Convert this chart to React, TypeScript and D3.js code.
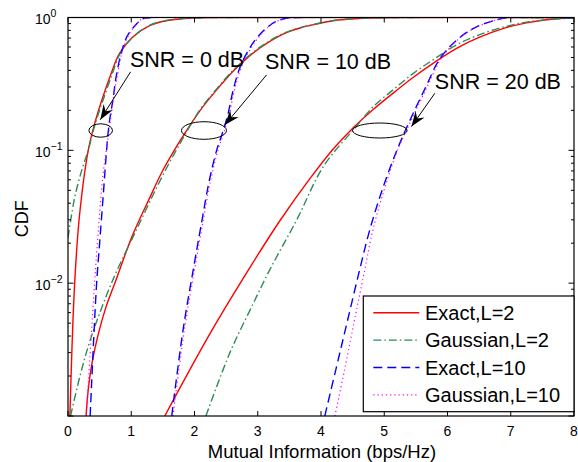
import React from 'react';
import * as d3 from 'd3';

// values: [mutual information, CDF]
const exactL2_0dB = [[0.03, 0.001], [0.1, 0.0089], [0.18, 0.0316], [0.32, 0.1], [0.42, 0.158], [0.55, 0.251], [0.68, 0.376], [0.81, 0.532], [1.02, 0.71], [1.29, 0.867], [1.55, 0.946], [1.97, 0.991], [2.5, 1], [8, 1]];
const gaussL2_0dB = [[0, 0.022], [0.1, 0.0427], [0.205, 0.0676], [0.285, 0.0891], [0.32, 0.1], [0.43, 0.158], [0.57, 0.251], [0.7, 0.376], [0.82, 0.532], [1.02, 0.71], [1.28, 0.867], [1.53, 0.946], [2.0, 0.991], [2.5, 1], [8, 1]];
const exactL10_0dB = [[0.35, 0.001], [0.45, 0.00955], [0.5, 0.02], [0.56, 0.0479], [0.61, 0.1], [0.65, 0.158], [0.71, 0.24], [0.76, 0.355], [0.84, 0.537], [0.94, 0.73], [1.08, 0.891], [1.18, 0.977], [1.35, 1], [8, 1]];
const gaussL10_0dB = [[0.29, 0.001], [0.42, 0.01], [0.48, 0.0251], [0.55, 0.0631], [0.62, 0.112], [0.67, 0.166], [0.72, 0.251], [0.78, 0.363], [0.85, 0.537], [0.95, 0.724], [1.08, 0.891], [1.18, 0.977], [1.35, 1], [8, 1]];

const exactL2_10dB = [[0.285, 0.001], [0.32, 0.00158], [0.38, 0.00251], [0.47, 0.00398], [0.6, 0.0066], [0.74, 0.01], [1.02, 0.0229], [1.29, 0.0437], [1.5, 0.0708], [1.68, 0.1], [1.8, 0.124], [2.09, 0.2], [2.35, 0.285], [2.61, 0.394], [2.88, 0.519], [3.14, 0.638], [3.4, 0.751], [3.67, 0.834], [3.93, 0.893], [4.19, 0.946], [4.46, 0.975], [4.77, 0.991], [5.3, 1], [8, 1]];
const gaussL2_10dB = [[0.04, 0.001], [0.19, 0.002], [0.35, 0.00372], [0.61, 0.00813], [0.78, 0.0126], [1.08, 0.0251], [1.34, 0.0457], [1.55, 0.0724], [1.71, 0.1], [1.82, 0.124], [2.09, 0.203], [2.35, 0.29], [2.61, 0.4], [2.88, 0.525], [3.14, 0.645], [3.4, 0.758], [3.67, 0.84], [3.93, 0.897], [4.19, 0.948], [4.46, 0.976], [4.77, 0.991], [5.3, 1], [8, 1]];
const exactL10_10dB = [[1.64, 0.001], [1.82, 0.00447], [1.98, 0.0126], [2.11, 0.0282], [2.23, 0.058], [2.35, 0.1], [2.43, 0.13], [2.53, 0.188], [2.61, 0.282], [2.72, 0.422], [2.88, 0.597], [3.04, 0.751], [3.22, 0.893], [3.4, 0.975], [3.6, 1], [8, 1]];
const gaussL10_10dB = [[1.66, 0.001], [1.84, 0.00447], [2.0, 0.0126], [2.13, 0.0282], [2.25, 0.058], [2.37, 0.1], [2.45, 0.13], [2.55, 0.188], [2.63, 0.282], [2.74, 0.422], [2.9, 0.597], [3.06, 0.751], [3.23, 0.893], [3.41, 0.975], [3.6, 1], [8, 1]];

const exactL2_20dB = [[1.53, 0.001], [2.245, 0.00417], [2.88, 0.0132], [3.35, 0.0295], [3.83, 0.0617], [4.19, 0.102], [4.51, 0.148], [4.83, 0.204], [5.15, 0.272], [5.46, 0.355], [5.8, 0.462], [6.15, 0.589], [6.5, 0.708], [6.9, 0.832], [7.25, 0.912], [7.6, 0.966], [8, 0.993]];
const gaussL2_20dB = [[2.18, 0.001], [2.56, 0.003], [2.88, 0.0063], [3.19, 0.0126], [3.62, 0.0302], [4.04, 0.0759], [4.54, 0.148], [4.83, 0.214], [5.15, 0.288], [5.46, 0.38], [5.8, 0.49], [6.15, 0.624], [6.5, 0.741], [6.9, 0.851], [7.25, 0.923], [7.6, 0.966], [8, 0.99]];
const exactL10_20dB = [[4.06, 0.001], [4.25, 0.0024], [4.41, 0.00501], [4.6, 0.012], [4.77, 0.0251], [4.98, 0.0525], [5.2, 0.1], [5.41, 0.17], [5.65, 0.295], [5.88, 0.49], [6.17, 0.692], [6.46, 0.851], [6.8, 0.966], [7.0, 1], [8, 1]];
const gaussL10_20dB = [[4.22, 0.001], [4.37, 0.0022], [4.52, 0.005], [4.67, 0.0112], [4.82, 0.0251], [5.01, 0.0525], [5.21, 0.1], [5.43, 0.17], [5.67, 0.295], [5.9, 0.49], [6.18, 0.692], [6.47, 0.851], [6.8, 0.966], [7.0, 1], [8, 1]];

const xTicks = [0, 1, 2, 3, 4, 5, 6, 7, 8];
const yLabelValues = [1e-2, 1e-1, 1];
const yLabelExponents = ['\u22122', '\u22121', '0'];

const series = [
  { name: 'Exact,L=2', color: '#ff0000', dash: undefined, width: 1.4, curves: [exactL2_0dB, exactL2_10dB, exactL2_20dB] },
  { name: 'Gaussian,L=2', color: '#2e8b57', dash: '8,3,1.5,3', width: 1.4, curves: [gaussL2_0dB, gaussL2_10dB, gaussL2_20dB] },
  { name: 'Exact,L=10', color: '#0000ff', dash: '9,5', width: 1.4, curves: [exactL10_0dB, exactL10_10dB, exactL10_20dB] },
  { name: 'Gaussian,L=10', color: '#ff00ff', dash: '1.2,3', width: 1.2, curves: [gaussL10_0dB, gaussL10_10dB, gaussL10_20dB] },
];

// annotation anchors in data units
const annotations = [
  { label: 'SNR = 0 dB', text: [0.98, 0.425], from: [0.99, 0.39], to: [0.51, 0.17], ellipse: [0.517, 0.141], rx: 11.8, ry: 6.7 },
  { label: 'SNR = 10 dB', text: [3.115, 0.41], from: [3.14, 0.37], to: [2.48, 0.155], ellipse: [2.15, 0.141], rx: 22.5, ry: 8.8 },
  { label: 'SNR = 20 dB', text: [5.8, 0.29], from: [5.8, 0.269], to: [5.43, 0.151], ellipse: [4.93, 0.141], rx: 27.3, ry: 7.5 },
];

const W = 578;
const H = 462;
const margin = { top: 17.5, right: 4, bottom: 46, left: 68 };
const font = '"Liberation Sans", Arial, Helvetica, sans-serif';

const App: React.FC = () => {
  const innerW = W - margin.left - margin.right;
  const innerH = H - margin.top - margin.bottom;

  const x = d3.scaleLinear().domain([0, 8]).range([0, innerW]);
  const y = d3.scaleLog().domain([1e-3, 1]).range([innerH, 0]);

  const line = d3.line<number[]>()
    .x(d => x(d[0]))
    .y(d => y(d[1]))
    .curve(d3.curveCatmullRom.alpha(0.5));

  const minorTicks: number[] = [];
  [1e-3, 1e-2, 1e-1].forEach(dec => {
    for (let k = 2; k <= 9; k++) minorTicks.push(dec * k);
  });
  const majorTicks = [1e-3, 1e-2, 1e-1, 1];

  const arrowHead = (from: number[], to: number[]) => {
    const x0 = x(from[0]), y0 = y(from[1]);
    const x1 = x(to[0]), y1 = y(to[1]);
    const a = Math.atan2(y1 - y0, x1 - x0);
    const len = 15, half = 5.5, notch = 10;
    const pt = (l: number, w: number) => {
      const px = x1 - l * Math.cos(a) - w * Math.sin(a);
      const py = y1 - l * Math.sin(a) + w * Math.cos(a);
      return `${px},${py}`;
    };
    return [pt(0, 0), pt(len, half), pt(notch, 0), pt(len, -half)].join(' ');
  };

  const legendX = 363.3 - margin.left;
  const legendY = 296 - margin.top;
  const legendW = innerW - legendX;
  const legendH = 411.7 - 296;

  return (
    <svg width={W} height={H} style={{ position: 'absolute', left: 0, top: 0 }} fontFamily={font}>
      <rect width={W} height={H} fill="#fff" />
      <defs>
        <clipPath id="plotArea">
          <rect width={innerW} height={innerH} />
        </clipPath>
      </defs>
      <g transform={`translate(${margin.left},${margin.top})`}>
        <g clipPath="url(#plotArea)">
          {series.map(s => s.curves.map((c, i) => (
            <path key={s.name + i} d={line(c) ?? ''} fill="none" stroke={s.color}
              strokeWidth={s.width} strokeDasharray={s.dash} />
          )))}
        </g>

        {/* ticks */}
        {xTicks.map(t => (
          <g key={'xt' + t}>
            <line x1={x(t)} x2={x(t)} y1={innerH} y2={innerH - 5} stroke="#000" />
            <line x1={x(t)} x2={x(t)} y1={0} y2={5} stroke="#000" />
            <text x={x(t)} y={innerH + 20} textAnchor="middle" fontSize={14}>{t}</text>
          </g>
        ))}
        {majorTicks.map(t => (
          <g key={'ym' + t}>
            <line x1={0} x2={5.5} y1={y(t)} y2={y(t)} stroke="#000" />
            <line x1={innerW} x2={innerW - 5.5} y1={y(t)} y2={y(t)} stroke="#000" />
          </g>
        ))}
        {minorTicks.map(t => (
          <g key={'yn' + t}>
            <line x1={0} x2={3} y1={y(t)} y2={y(t)} stroke="#000" />
            <line x1={innerW} x2={innerW - 3} y1={y(t)} y2={y(t)} stroke="#000" />
          </g>
        ))}
        {yLabelValues.map((v, i) => (
          <text key={'yl' + v} x={35 - margin.left} y={y(v) + 6.5} fontSize={14}>
            10<tspan dy={-7} fontSize={10.5}>{yLabelExponents[i]}</tspan>
          </text>
        ))}

        <rect width={innerW} height={innerH} fill="none" stroke="#000" strokeWidth={1.2} />

        {/* annotations */}
        {annotations.map(a => (
          <g key={a.label}>
            <ellipse cx={x(a.ellipse[0])} cy={y(a.ellipse[1])} rx={a.rx} ry={a.ry} fill="none" stroke="#000" strokeWidth={1} />
            <line x1={x(a.from[0])} y1={y(a.from[1])} x2={x(a.to[0])} y2={y(a.to[1])} stroke="#000" strokeWidth={1} />
            <polygon points={arrowHead(a.from, a.to)} fill="#000" />
            <text x={x(a.text[0])} y={y(a.text[1])} fontSize={21.5}>{a.label}</text>
          </g>
        ))}

        {/* legend */}
        <g transform={`translate(${legendX},${legendY})`}>
          <rect width={legendW} height={legendH} fill="#fff" stroke="#000" strokeWidth={1.2} />
          {series.map((s, i) => (
            <g key={'lg' + s.name} transform={`translate(0,${16.7 + i * 27.4})`}>
              <line x1={10} x2={56} y1={0} y2={0} stroke={s.color} strokeWidth={s.width} strokeDasharray={s.dash} />
              <text x={61.7} y={7} fontSize={20}>{s.name}</text>
            </g>
          ))}
        </g>

        <text x={innerW / 2 + 1} y={innerH + 42} textAnchor="middle" fontSize={18.5}>Mutual Information (bps/Hz)</text>
        <text transform={`translate(${28 - margin.left},${innerH / 2 + 2}) rotate(-90)`} textAnchor="middle" fontSize={18}>CDF</text>
      </g>
    </svg>
  );
};

export default App;
